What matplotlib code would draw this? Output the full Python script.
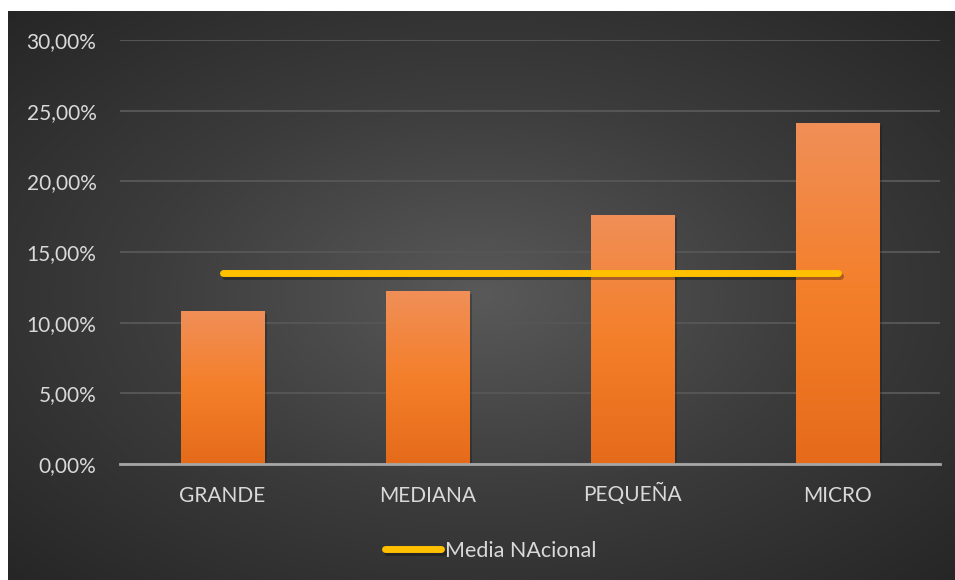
import numpy as np
import matplotlib
matplotlib.use("Agg")
import matplotlib.pyplot as plt
import matplotlib.patheffects as pe
from matplotlib.colors import LinearSegmentedColormap
from matplotlib.ticker import FuncFormatter

categorias = ["GRANDE", "MEDIANA", "PEQUEÑA", "MICRO"]
valores = [0.1083, 0.1224, 0.1762, 0.2413]
media_nacional = [0.135, 0.135, 0.135, 0.135]
yticks = [0, 0.05, 0.10, 0.15, 0.20, 0.25, 0.30]

plt.rcParams['font.family'] = ['Lato', 'DejaVu Sans']
txt = '#d9d9d9'

fig = plt.figure(figsize=(9.55, 5.8), dpi=100)

# background with radial gradient, white margin on top/left
bg = fig.add_axes([8 / 955, 0, 947 / 955, 1 - 11 / 580])
bg.set_axis_off()
yy, xx = np.mgrid[-1:1:300j, -1:1:500j]
r = np.sqrt((xx * 0.95) ** 2 + (yy * 0.95) ** 2)
bg_cmap = LinearSegmentedColormap.from_list('bg', ['#595959', '#3c3c3c', '#262626'])
bg.imshow(r, cmap=bg_cmap, vmin=0, vmax=1.35, aspect='auto', extent=[0, 1, 0, 1])
bg.set_xlim(0, 1)
bg.set_ylim(0, 1)

ax = fig.add_axes([120 / 955, 116 / 580, 820 / 955, 424 / 580])
ax.patch.set_alpha(0)
x = np.arange(len(categorias))
bars = ax.bar(x, valores, width=0.405, color='#f47f2a', zorder=3,
              path_effects=[pe.SimplePatchShadow(offset=(2, -2), shadow_rgbFace='black', alpha=0.22),
                            pe.Normal()])

bar_cmap = LinearSegmentedColormap.from_list('bar', ['#e56b1a', '#f47f2a', '#f08f58'])
grad = np.linspace(0, 1, 256).reshape(-1, 1)
for b in bars:
    im = ax.imshow(grad, cmap=bar_cmap, origin='lower', aspect='auto', zorder=3.5,
                   extent=[b.get_x(), b.get_x() + b.get_width(), 0, b.get_height()])
    im.set_clip_path(b)

ax.plot(x, media_nacional, color='#ffc000', lw=5, solid_capstyle='round', zorder=5,
        label='Media NAcional',
        path_effects=[pe.SimpleLineShadow(offset=(1.5, -2), shadow_color='black', alpha=0.3),
                      pe.Normal()])

ax.set_xlim(-0.5, len(categorias) - 0.5)
ax.set_ylim(0, 0.30)
ax.set_yticks(yticks)
ax.yaxis.set_major_formatter(FuncFormatter(lambda v, p: f"{v * 100:.2f}%".replace('.', ',')))
ax.set_xticks(x)
ax.set_xticklabels(categorias)
ax.grid(axis='y', color='#555555', lw=1.5, zorder=0)
ax.set_axisbelow(True)
for s in ['top', 'right', 'left']:
    ax.spines[s].set_visible(False)
ax.spines['bottom'].set_color('#a6a6a6')
ax.spines['bottom'].set_linewidth(2)
ax.spines['bottom'].set_zorder(6)
ax.tick_params(length=0, colors=txt, labelsize=15)
ax.tick_params(axis='y', pad=17)
ax.tick_params(axis='x', pad=27)
for lab in ax.get_xticklabels():
    lab.set_va('baseline')

leg = ax.legend(loc='upper center', bbox_to_anchor=(0.452, -0.135), frameon=False,
                fontsize=15.5, labelcolor=txt, handlelength=2.6, handletextpad=0.15)

fig.savefig('out.png', dpi=100, facecolor='white')
